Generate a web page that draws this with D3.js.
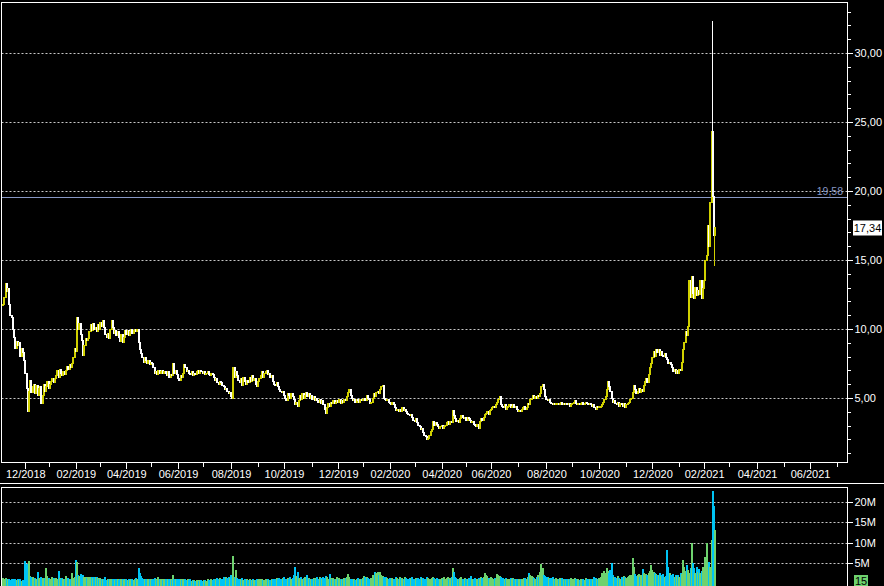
<!DOCTYPE html>
<html><head><meta charset="utf-8">
<script src="https://cdn.jsdelivr.net/npm/d3@7/dist/d3.min.js"></script>
<style>html,body{margin:0;padding:0;background:#000;}svg{display:block;}</style>
</head><body>
<svg id="c" width="884" height="586"></svg>
<script>
// ---------------- DATA ----------------
const startDate = "2018-11-07";
const holidays = ["2018-12-25","2018-12-26","2019-01-01","2019-04-19","2019-04-22","2019-05-01",
  "2019-12-25","2019-12-26","2020-01-01","2020-04-10","2020-04-13","2020-05-01","2020-12-25","2021-01-01"];
const lastDate = "2021-07-31";

// daily closing prices
const closes = [
11.8,12.3,13.3,12.7,12.9,11.8,11.0,10.8,10.0,9.4,8.6,9.1,8.8,9.0,8.0,8.6,8.3,7.7,
6.8,5.7,4.0,5.5,6.3,5.4,5.8,6.0,5.3,5.9,5.2,5.7,5.8,4.6,5.2,6.0,5.5,5.8,6.2,5.7,6.0,6.2,6.4,6.1,6.4,6.6,7.0,6.5,7.1,6.8,6.6,6.9,6.7,7.0,7.3,7.1,7.4,7.2,7.5,7.9,8.6,8.4,
10.8,10.0,10.4,9.6,9.2,8.1,8.8,9.3,9.2,9.3,9.8,10.3,9.9,10.4,10.0,10.1,9.8,10.3,10.0,10.5,10.2,10.6,10.1,9.6,9.4,9.7,9.3,10.0,10.6,10.1,9.7,9.9,9.5,9.8,9.4,9.1,9.6,9.0,9.4,9.9,9.6,9.9,9.5,9.8,10.0,9.7,9.9,10.0,9.8,10.0,9.0,8.5,8.2,
7.9,7.6,7.9,7.7,7.5,7.7,7.4,7.6,7.5,7.2,6.8,6.9,6.7,7.0,6.8,6.9,7.0,6.8,6.9,6.8,6.6,6.9,6.5,6.7,6.6,7.5,6.8,7.0,6.7,6.4,6.3,6.6,6.5,6.8,7.4,7.2,6.9,7.0,6.8,6.7,6.9,6.6,6.8,6.7,6.9,7.0,6.8,7.0,6.9,6.8,6.9,6.7,6.8,6.9,6.7,6.6,6.8,6.7,6.5,6.3,6.4,6.1,6.0,6.2,6.1,5.9,5.8,5.6,5.7,5.5,5.3,5.4,5.1,5.0,
7.2,6.5,6.9,6.6,6.3,6.1,6.4,5.9,6.5,6.2,6.0,6.3,6.1,6.5,6.2,6.6,6.3,6.4,6.0,5.8,6.2,6.4,6.6,6.9,6.5,6.8,6.9,7.0,6.7,6.8,6.5,6.6,6.2,6.0,5.9,6.1,5.8,5.6,5.5,5.4,5.5,5.2,5.0,4.8,5.3,5.2,5.0,5.3,5.1,4.9,4.5,4.7,4.4,4.8,5.2,4.9,5.3,5.0,5.2,5.4,5.1,5.3,5.0,5.2,4.9,5.1,4.8,5.0,4.8,4.7,4.9,4.6,4.8,
4.5,4.2,3.9,4.3,4.6,4.4,4.7,4.6,4.8,4.6,4.7,4.8,4.7,4.9,4.6,4.8,4.7,4.9,4.8,5.1,5.4,5.6,5.2,5.0,4.8,4.9,4.7,4.9,4.8,4.7,4.9,4.8,4.9,5.0,4.8,5.2,5.0,4.9,4.6,4.7,5.0,5.3,5.1,5.4,5.5,5.3,5.6,5.8,5.9,5.0,4.9,4.8,4.9,4.7,4.6,4.5,4.7,4.5,4.3,4.1,4.2,4.0,4.2,4.0,4.3,4.1,4.2,4.0,3.9,3.8,3.7,3.8,3.6,3.4,3.3,3.5,3.2,3.0,2.9,2.7,2.8,2.5,2.3,2.2,2.0,2.1,2.3,2.6,2.7,
3.3,3.0,3.2,3.1,2.9,2.8,2.9,3.0,2.8,2.9,3.0,3.2,3.3,3.1,3.3,3.2,4.1,3.7,3.5,3.3,3.4,3.2,3.5,3.7,3.6,3.5,3.6,3.4,3.6,3.5,3.4,3.2,3.3,3.1,3.0,2.9,3.1,2.8,3.3,3.5,3.4,3.6,3.8,3.9,4.0,3.8,4.1,4.2,4.3,4.4,4.3,4.5,4.7,4.9,5.1,4.5,4.4,4.3,4.5,4.2,4.4,4.4,4.5,4.3,4.4,4.5,4.3,4.4,4.2,4.0,4.1,4.0,4.2,4.3,4.4,4.2,4.3,4.6,4.5,4.9,
5.0,5.2,5.0,5.1,5.0,5.2,5.1,5.3,5.8,6.0,5.6,5.1,4.9,4.8,4.9,4.7,4.6,4.5,4.6,4.5,4.6,4.6,4.5,4.6,4.7,4.5,4.6,4.5,4.6,4.5,4.6,4.4,4.5,4.6,4.7,4.8,4.6,4.5,4.6,4.5,4.6,4.7,4.5,4.6,4.7,4.6,4.5,4.6,4.5,4.4,4.5,4.3,4.2,4.4,4.3,4.4,4.4,4.5,4.7,4.9,5.1,5.6,6.2,5.8,5.5,5.0,4.7,4.8,4.6,4.5,4.7,4.4,4.6,4.5,4.4,4.6,4.3,4.5,4.6,4.7,4.9,5.0,
5.4,5.9,5.6,5.3,5.5,5.7,5.4,5.6,5.5,5.9,6.2,6.4,6.1,6.7,7.2,7.5,7.9,8.4,8.0,8.5,8.3,8.5,8.1,8.4,8.1,8.0,8.2,7.9,7.8,7.5,7.6,7.4,7.2,6.9,7.1,6.8,7.0,6.8,7.1,7.0,7.6,8.5,9.0,9.8,9.5,10.2,13.5,12.3,13.8,12.6,12.2,13.0,12.4,12.8,12.5,13.5,12.2,12.9,13.5,15.0,15.3,17.5,16.0,19.2,24.3,19.6,16.8,17.34
];

// daily volume, millions of shares
const volumes = [
1.2,0.9,1.1,0.8,1.0,0.9,0.7,0.8,1.0,0.6,0.9,0.7,0.8,0.6,0.9,0.5,0.7,0.4,
5.5,4.6,1.2,5.3,1.7,1.5,1.3,1.0,1.2,0.9,2.7,1.1,1.0,1.4,1.1,0.9,1.2,3.7,1.6,1.2,1.0,0.9,1.3,1.1,0.8,1.2,1.0,3.0,1.1,0.9,1.2,0.8,1.0,1.7,0.9,1.1,0.8,1.0,2.5,1.2,1.5,5.7,
5.2,2.0,1.6,2.1,1.8,2.0,1.5,1.3,1.1,1.4,1.5,1.3,1.4,1.2,1.5,1.4,1.3,1.1,1.0,1.2,0.9,0.8,1.0,1.3,0.7,0.9,0.8,1.0,0.9,0.8,0.9,0.7,0.9,0.8,0.6,0.9,0.8,1.0,0.7,0.8,0.9,0.7,0.8,0.6,0.9,0.8,0.7,0.9,1.2,1.0,3.7,2.5,1.6,
1.1,0.9,0.8,1.0,0.7,0.9,0.8,1.0,0.7,0.9,1.1,0.8,0.7,1.5,0.9,0.8,1.0,0.7,0.9,0.8,0.7,0.9,1.0,0.8,0.7,1.9,1.0,0.8,0.9,0.8,0.9,1.0,0.7,0.8,1.0,0.8,0.7,0.9,0.6,0.8,0.5,0.7,0.6,0.5,0.7,0.6,0.5,0.7,0.6,0.5,0.6,0.7,0.5,0.8,0.6,0.5,0.9,0.7,0.8,1.0,0.9,1.2,0.8,1.1,1.0,0.9,1.3,1.1,1.5,1.2,1.4,1.1,1.9,1.3,
6.7,1.5,3.2,1.2,1.0,0.9,0.8,1.1,0.7,0.8,0.6,0.9,0.7,0.8,0.6,0.7,0.9,0.6,0.7,0.8,0.6,0.9,0.8,1.0,0.7,0.6,0.9,0.7,0.8,0.6,0.7,0.9,0.8,1.0,0.9,1.1,0.9,1.2,1.0,0.8,1.1,1.3,1.0,0.9,1.2,1.0,1.4,0.9,1.1,2.0,4.0,1.6,2.6,1.2,1.0,1.3,0.9,1.1,1.5,1.0,1.9,1.1,0.9,0.8,1.0,1.2,0.9,1.1,1.3,1.0,1.5,1.1,0.9,
1.4,1.2,1.7,1.3,1.0,2.2,1.1,0.9,1.2,1.0,0.8,1.3,0.9,1.1,0.8,1.0,0.9,1.2,1.1,1.4,2.2,1.3,1.0,0.9,0.8,1.0,0.7,0.9,1.2,0.8,1.0,0.9,1.1,1.6,1.3,1.5,1.2,1.0,0.9,1.1,2.0,1.6,2.7,2.3,2.6,1.8,2.7,2.0,1.6,1.4,1.2,1.3,1.1,1.0,1.2,0.9,1.1,1.0,1.0,1.3,1.2,1.0,1.4,1.1,1.1,1.0,1.3,1.2,1.0,0.9,1.1,1.2,1.3,1.0,0.9,1.1,1.0,1.2,1.0,1.3,1.1,1.2,0.9,1.0,1.3,1.1,0.9,1.0,1.2,
1.4,1.1,1.0,1.2,0.9,1.0,0.8,1.1,0.9,1.3,1.0,1.1,1.3,1.0,1.2,1.4,3.6,2.7,1.3,1.1,1.0,0.9,1.2,1.5,1.0,0.9,1.1,0.8,1.0,1.2,0.9,1.6,1.0,0.8,1.1,0.9,1.0,1.2,1.0,1.3,1.1,1.4,2.5,2.0,1.6,1.2,1.0,1.3,1.1,0.9,1.2,1.0,2.2,2.0,1.6,1.3,1.0,1.2,0.9,1.1,1.0,0.8,1.0,1.2,0.9,1.1,0.8,1.0,0.9,0.7,1.0,0.8,1.0,0.9,1.1,1.2,1.0,1.4,2.3,2.0,
1.7,1.4,1.2,1.0,1.5,1.9,1.3,2.6,4.7,3.6,2.0,1.6,1.3,1.5,1.1,1.0,1.2,1.4,1.0,0.9,1.1,0.8,1.0,1.2,0.9,1.1,0.8,1.0,0.7,1.0,0.9,0.8,1.1,0.9,1.0,1.2,0.8,0.9,1.0,0.7,0.8,1.0,0.9,0.7,1.2,0.8,0.9,1.0,0.9,0.8,1.0,1.5,1.1,0.9,1.0,1.2,1.4,2.3,2.0,2.8,2.5,3.6,3.0,2.3,3.2,5.0,2.0,1.5,1.3,1.1,1.6,1.2,1.0,1.4,1.1,1.7,1.5,1.2,1.4,1.6,2.0,1.8,
6.1,3.8,2.2,1.6,1.8,2.2,1.5,2.0,3.3,2.4,1.8,2.2,1.9,2.5,3.0,4.4,3.2,2.7,2.5,2.2,2.0,1.8,2.3,1.6,1.9,2.1,1.5,1.7,8.2,3.8,2.4,1.8,1.6,2.2,1.5,1.8,1.6,2.0,1.4,2.4,2.2,5.6,4.0,2.8,4.4,3.2,2.5,3.6,9.8,5.0,3.7,2.5,4.0,2.7,3.5,2.4,3.0,4.0,2.5,6.5,10.0,3.5,5.2,4.0,10.7,22.9,19.0,13.0
];

// intraday extremes for the last sessions: [day index, high, low]
const wicks = [[576, 32.3, 19.6], [578, 17.34, 14.6]];

const priceMajorTicks = [5, 10, 15, 20, 25, 30];
const volumeTicks = [5, 10, 15, 20];
const referencePrice = 19.58;
const lastPrice = 17.34;
const volumeLabel = "15";

// ---------------- CHART ----------------
const W = 884, H = 586;
const font = "'Liberation Sans', Arial, sans-serif";
const YELLOW = "#d0d000", WHITE = "#ffffff", CYAN = "#00c4f4", GREEN = "#6ed26e";
const GRID = "#c8c8c8";
const REF = "#8797c4";

const svg = d3.select("#c");
svg.append("rect").attr("width", W).attr("height", H).attr("fill", "#000");

// panel geometry
const P = {l: 1.5, r: 847.5, t: 2.5, b: 462.5};
const V = {t: 487.5, b: 600};

// calendar (trading days for history, weekdays for future)
const parse = d3.timeParse("%Y-%m-%d"), fmtD = d3.timeFormat("%Y-%m-%d");
const hol = new Set(holidays);
const cal = [];
{
  let d = parse(startDate);
  const end = parse(lastDate);
  while (d <= end) {
    const wd = d.getDay();
    if (wd !== 0 && wd !== 6 && !(cal.length < closes.length && hol.has(fmtD(d)))) cal.push(new Date(d));
    d = d3.timeDay.offset(d, 1);
  }
}

const x = d3.scaleLinear().domain([0, closes.length - 1]).range([3.1, 715.2]);
const y = d3.scaleLinear().domain([0, 30]).range([467, 53]);
const yv = d3.scaleLinear().domain([0, 20]).range([582.7, 502.3]);

// month ticks
const monthTicks = [];
cal.forEach((d, i) => {
  if (i > 0 && d.getMonth() !== cal[i - 1].getMonth()) monthTicks.push({i, d});
});
const visTicks = monthTicks.filter(t => x(t.i) < P.r - 2);

// clip paths
const defs = svg.append("defs");
defs.append("clipPath").attr("id", "cm").append("rect")
  .attr("x", P.l + 0.5).attr("y", P.t + 0.5).attr("width", P.r - P.l - 1).attr("height", P.b - P.t - 1);
defs.append("clipPath").attr("id", "cv").append("rect")
  .attr("x", P.l + 0.5).attr("y", V.t + 0.5).attr("width", P.r - P.l - 1).attr("height", H - V.t);

// grid lines
const gMain = svg.append("g").attr("clip-path", "url(#cm)");
gMain.selectAll("line.grid").data(priceMajorTicks).join("line")
  .attr("x1", P.l).attr("x2", P.r)
  .attr("y1", d => Math.round(y(d)) + 0.5).attr("y2", d => Math.round(y(d)) + 0.5)
  .attr("stroke", GRID).attr("stroke-dasharray", "2,2").attr("stroke-width", 1);

// reference price line
gMain.append("line").attr("x1", P.l).attr("x2", P.r)
  .attr("y1", Math.round(y(referencePrice)) + 0.5).attr("y2", Math.round(y(referencePrice)) + 0.5)
  .attr("stroke", REF).attr("stroke-width", 1).attr("shape-rendering", "crispEdges");
svg.append("text").attr("x", 843).attr("y", y(referencePrice) - 2)
  .attr("text-anchor", "end").attr("fill", REF)
  .attr("font-family", font).attr("font-size", 10.5).text(d3.format(".2f")(referencePrice).replace(".", ","));

// price bars
const bars = closes.map((c, i) => {
  const o = i > 0 ? closes[i - 1] : c;
  return {i, o, c, up: c >= o};
});
gMain.selectAll("rect.bar").data(bars).join("rect")
  .attr("x", d => Math.round(x(d.i)) - 1)
  .attr("width", 2)
  .attr("y", d => y(Math.max(d.o, d.c)) - 0.5)
  .attr("height", d => Math.max(2, Math.abs(y(d.o) - y(d.c)) + 1))
  .attr("fill", d => d.up ? YELLOW : WHITE)
  .attr("shape-rendering", "crispEdges");
gMain.selectAll("rect.wick").data(wicks).join("rect")
  .attr("x", d => Math.round(x(d[0])) - 1).attr("width", 1)
  .attr("y", d => y(d[1])).attr("height", d => y(d[2]) - y(d[1]))
  .attr("fill", d => bars[d[0]].up ? YELLOW : WHITE)
  .attr("shape-rendering", "crispEdges");

// main frame
svg.append("rect").attr("x", P.l).attr("y", P.t).attr("width", P.r - P.l).attr("height", P.b - P.t)
  .attr("fill", "none").attr("stroke", "#fff").attr("stroke-width", 1);

// right price axis: minor + major
const yAxisMinor = d3.axisRight(y).tickValues(d3.range(1, 34)).tickSize(3).tickFormat("");
const gMin = svg.append("g").attr("transform", `translate(${P.r},0)`).call(yAxisMinor);
const yAxisMajor = d3.axisRight(y).tickValues(priceMajorTicks).tickSize(5).tickPadding(2)
  .tickFormat(d => d3.format(".2f")(d).replace(".", ","));
const gMaj = svg.append("g").attr("transform", `translate(${P.r},0)`).call(yAxisMajor);
[gMin, gMaj].forEach(g => {
  g.select(".domain").remove();
  g.selectAll("line").attr("stroke", "#fff").attr("shape-rendering", "crispEdges");
  g.selectAll("text").attr("fill", "#fff").attr("font-family", font).attr("font-size", 11);
});
gMin.selectAll(".tick").filter(d => y(d) < P.t || y(d) > P.b).remove();

// last price label
const lp = svg.append("g");
lp.append("rect").attr("x", 853).attr("y", Math.round(y(lastPrice)) - 7.5).attr("width", 29).attr("height", 15).attr("fill", "#fff");
lp.append("text").attr("x", 867.5).attr("y", y(lastPrice) + 4).attr("text-anchor", "middle")
  .attr("fill", "#000").attr("font-family", font).attr("font-size", 11)
  .text(d3.format(".2f")(lastPrice).replace(".", ","));

// bottom date axis
const fmtM = d3.timeFormat("%m/%Y");
const xAxis = d3.axisBottom(x).tickValues(visTicks.map(t => t.i)).tickSize(4).tickPadding(4)
  .tickFormat((d, k) => visTicks[k].d.getMonth() % 2 === 1 ? fmtM(visTicks[k].d) : "");
const gx = svg.append("g").attr("transform", `translate(0,${P.b})`).call(xAxis);
gx.select(".domain").remove();
gx.selectAll("line").attr("stroke", "#fff").attr("shape-rendering", "crispEdges")
  .attr("y2", (d, k) => visTicks[k].d.getMonth() % 2 === 1 ? 6 : 4);
gx.selectAll("text").attr("fill", "#fff").attr("font-family", font).attr("font-size", 11).attr("dy", "0.71em");

// separator line
svg.append("line").attr("x1", 0).attr("x2", W).attr("y1", 483.5).attr("y2", 483.5).attr("stroke", "#fff");

// volume panel
const gVol = svg.append("g").attr("clip-path", "url(#cv)");
gVol.selectAll("line.vgrid").data(volumeTicks).join("line")
  .attr("x1", P.l).attr("x2", P.r)
  .attr("y1", d => Math.round(yv(d)) + 0.5).attr("y2", d => Math.round(yv(d)) + 0.5)
  .attr("stroke", GRID).attr("stroke-dasharray", "2,2");
gVol.selectAll("rect.vol").data(volumes).join("rect")
  .attr("x", (d, i) => Math.round(x(i)) - 1).attr("width", 2)
  .attr("y", d => yv(d)).attr("height", d => yv(0) - yv(d) + 4)
  .attr("fill", (d, i) => bars[i].up ? GREEN : CYAN)
  .attr("shape-rendering", "crispEdges");
svg.append("rect").attr("x", P.l).attr("y", V.t).attr("width", P.r - P.l).attr("height", V.b - V.t)
  .attr("fill", "none").attr("stroke", "#fff");

const vAxis = d3.axisRight(yv).tickValues(volumeTicks).tickSize(5).tickPadding(2).tickFormat(d => d + "M");
const gva = svg.append("g").attr("transform", `translate(${P.r},0)`).call(vAxis);
gva.select(".domain").remove();
gva.selectAll("line").attr("stroke", "#fff").attr("shape-rendering", "crispEdges");
gva.selectAll("text").attr("fill", "#fff").attr("font-family", font).attr("font-size", 11);

// volume label box
svg.append("rect").attr("x", 854).attr("y", 575).attr("width", 14).attr("height", 12).attr("fill", GREEN);
svg.append("text").attr("x", 861).attr("y", 585).attr("text-anchor", "middle").attr("fill", "#000")
  .attr("font-family", font).attr("font-size", 11).text(volumeLabel);
</script>
</body></html>
